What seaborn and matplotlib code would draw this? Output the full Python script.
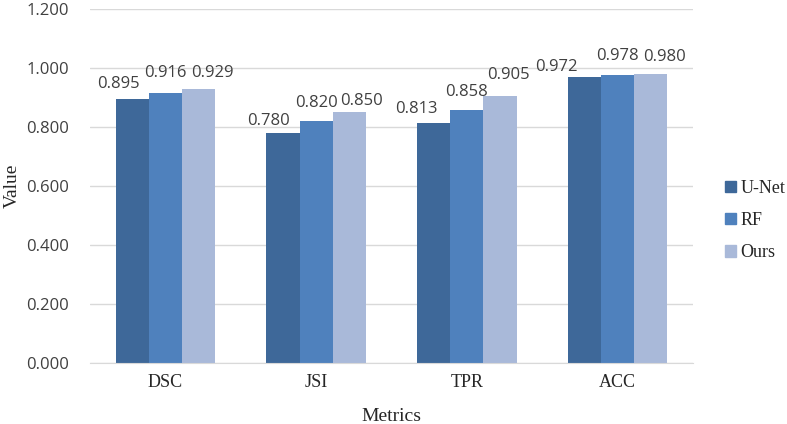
import pandas as pd
import seaborn as sns
import matplotlib.pyplot as plt

metrics = ['DSC', 'JSI', 'TPR', 'ACC']
unet = [0.895, 0.780, 0.813, 0.972]
rf = [0.916, 0.820, 0.858, 0.978]
ours = [0.929, 0.850, 0.905, 0.980]
models = ['U-Net', 'RF', 'Ours']
colors = ['#3E6899', '#4F81BD', '#A9B9D9']

# label nudges in pixels (dx, gap above bar), like Excel's auto placement
label_offsets = [
    [(-14, 11), (-14, 8), (-17, 10), (-28, 6)],
    [(0, 16), (0, 14), (0, 14), (0, 15)],
    [(14, 12), (12, 7), (8, 17), (14, 13)],
]

df = pd.DataFrame({
    'Metrics': metrics * 3,
    'Value': unet + rf + ours,
    'Model': [m for m in models for _ in metrics],
})

sns.set_style('white')
fig = plt.figure(figsize=(7.87, 4.24), dpi=100)
ax = fig.add_axes([0.1144, 0.144, 0.766, 0.834])

sns.barplot(data=df, x='Metrics', y='Value', hue='Model', palette=colors,
            width=0.66, saturation=1, linewidth=0, ax=ax, legend=True)

px = 72 / 100
for k, c in enumerate(ax.containers):
    for j, bar in enumerate(c):
        dx, dy = label_offsets[k][j]
        ax.annotate('%.3f' % bar.get_height(),
                    (bar.get_x() + bar.get_width() / 2, bar.get_height()),
                    xytext=(dx * px, dy * px), textcoords='offset points',
                    ha='center', va='baseline', fontsize=12,
                    color='#404040', family='Open Sans')

ax.set_ylim(0, 1.2)
ax.set_xlim(-0.5, 3.5)
ax.set_yticks([0, 0.2, 0.4, 0.6, 0.8, 1.0, 1.2])
ax.set_yticklabels(['%.3f' % v for v in ax.get_yticks()], fontsize=12,
                   color='#404040', family='Open Sans')
ax.set_xticks(range(len(metrics)))
ax.set_xticklabels(metrics, fontsize=13, family='Liberation Serif')
ax.yaxis.grid(True, color='#D9D9D9', linewidth=1)
ax.set_axisbelow(True)
for s in ['top', 'right', 'left']:
    ax.spines[s].set_visible(False)
ax.spines['bottom'].set_color('#D9D9D9')
ax.tick_params(axis='y', length=0, pad=15)
ax.tick_params(axis='x', length=0, pad=8)

ax.set_xlabel('Metrics', fontsize=14, family='Liberation Serif', labelpad=12)
ax.set_ylabel('Value', fontsize=14, family='Liberation Serif', labelpad=4)

ax.get_legend().remove()
handles = [plt.Rectangle((0, 0), 1, 1, color=col) for col in colors]
fig.legend(handles, models, loc='center left', bbox_to_anchor=(0.921, 0.48),
           frameon=False, prop={'family': 'Liberation Serif', 'size': 13},
           handlelength=0.6, handleheight=0.6, handletextpad=0.25,
           labelspacing=0.85, borderaxespad=0, borderpad=0)

fig.savefig('out.png', dpi=100)
